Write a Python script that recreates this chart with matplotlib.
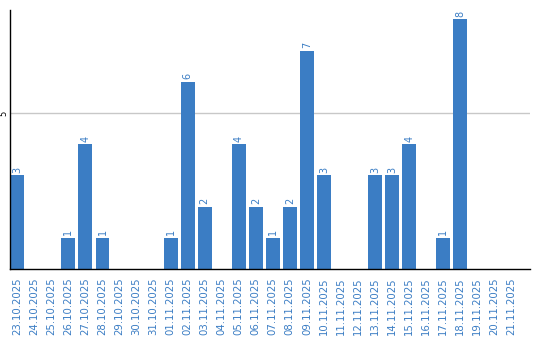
import matplotlib
matplotlib.use("Agg")
import matplotlib.pyplot as plt
import numpy as np

dates = [
    "23.10.2025", "24.10.2025", "25.10.2025", "26.10.2025", "27.10.2025",
    "28.10.2025", "29.10.2025", "30.10.2025", "31.10.2025", "01.11.2025",
    "02.11.2025", "03.11.2025", "04.11.2025", "05.11.2025", "06.11.2025",
    "07.11.2025", "08.11.2025", "09.11.2025", "10.11.2025", "11.11.2025",
    "12.11.2025", "13.11.2025", "14.11.2025", "15.11.2025", "16.11.2025",
    "17.11.2025", "18.11.2025", "19.11.2025", "20.11.2025", "21.11.2025",
]
counts = [3, 0, 0, 1, 4, 1, 0, 0, 0, 1,
          6, 2, 0, 4, 2, 1, 2, 7, 3, 0,
          0, 3, 3, 4, 0, 1, 8, 0, 0, 0]

blue = "#3b7dc4"

fig = plt.figure(figsize=(5.4, 3.4), dpi=100)
ax = fig.add_axes([10 / 540, 71 / 340, 520 / 540, 259 / 340])

x = np.arange(len(dates))
ax.bar(x, counts, width=0.82, color=blue, zorder=2)

for xi, v in zip(x, counts):
    if v > 0:
        ax.text(xi, v + 0.08, str(v), rotation=90, ha="center", va="bottom",
                color=blue, fontsize=7)

ax.set_xlim(-0.43, 30.1)
ax.set_ylim(0, 8.3)
ax.set_yticks([5])
ax.set_yticklabels(["5"], rotation=90, va="center", fontsize=6)
ax.tick_params(axis="y", length=0, pad=1)
ax.yaxis.grid(True, color="#c8c8c8", linewidth=1, zorder=0)
ax.set_axisbelow(True)

ax.set_xticks(x)
ax.set_xticklabels(dates, rotation=90, fontsize=7.3, color=blue, va="top")
ax.tick_params(axis="x", length=0, pad=6)

for s in ["top", "right"]:
    ax.spines[s].set_visible(False)
ax.spines["left"].set_color("black")
ax.spines["bottom"].set_color("black")
ax.spines["left"].set_linewidth(1)
ax.spines["bottom"].set_linewidth(1)

fig.savefig("out.png", dpi=100)
